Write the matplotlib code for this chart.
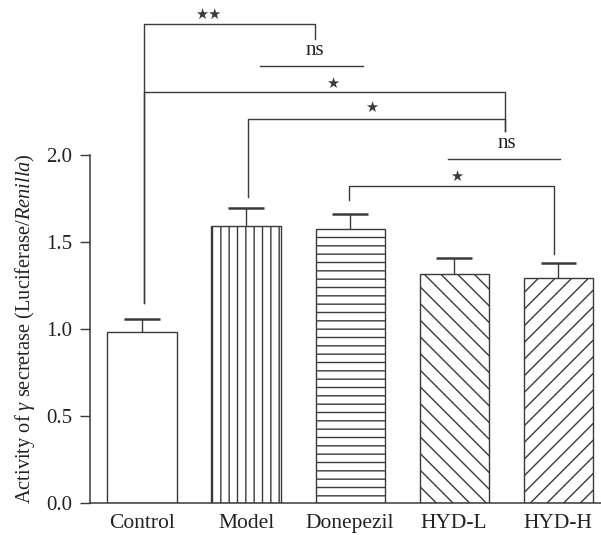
import matplotlib
matplotlib.use("Agg")
import matplotlib.pyplot as plt
import numpy as np

# group means and upper SEM
groups = ['Control', 'Model', 'Donepezil', 'HYD-L', 'HYD-H']
means = [0.983, 1.592, 1.573, 1.314, 1.291]
errs = [0.075, 0.103, 0.090, 0.096, 0.090]
hatches = ['', '||', '--', '\\\\', '//']

# significance brackets: x_left, x_right, y, bottom of left leg, bottom of right leg, label
brackets = [
    (0.016, 1.663, 2.751, 1.148, 2.667, '★★'),
    (0.016, 3.488, 2.360, 1.148, 2.138, '★'),
    (1.016, 3.488, 2.209, 1.760, 2.138, '★'),
    (1.990, 3.960, 1.822, 1.741, 1.431, '★'),
]
star_pos = [(0.635, 2.805), (1.827, 2.414), (2.202, 2.272), (3.026, 1.875)]
# plain "ns" lines: x_left, x_right, y, label x, label y
ns_lines = [
    (1.135, 2.125, 2.513, 1.663, 2.603),
    (2.940, 4.020, 1.977, 3.507, 2.065),
]

col = '#3a3a3a'
plt.rcParams['font.family'] = 'Liberation Serif'
plt.rcParams['mathtext.fontset'] = 'custom'
plt.rcParams['mathtext.rm'] = 'Liberation Serif'
plt.rcParams['mathtext.it'] = 'Liberation Serif:italic'
plt.rcParams['hatch.linewidth'] = 1.0
plt.rcParams['hatch.color'] = col

fig = plt.figure(figsize=(6.01, 5.35), dpi=100)
ax = fig.add_axes([0.1498, 0.0598, 0.85, 0.9432])

x = np.arange(len(groups))
means = np.array(means)
errs = np.array(errs)
ax.bar(x, means, width=0.665, color='white', edgecolor=col, linewidth=1.0,
       hatch=hatches, zorder=2)
ax.vlines(x, means, means + errs, color=col, linewidth=1.0, zorder=3)
ax.hlines(means + errs, x - 0.17, x + 0.17, color=col, linewidth=1.8, zorder=3)

for (xl, xr, y, bl, br, lab), (tx, ty) in zip(brackets, star_pos):
    ax.plot([xl, xl, xr, xr], [bl, y, y, br], color=col, linewidth=1.0,
            clip_on=False)
    ax.text(tx, ty, lab, ha='center', va='center', fontsize=10.5,
            family='DejaVu Sans', color=col)

for xl, xr, y, tx, ty in ns_lines:
    ax.plot([xl, xr], [y, y], color=col, linewidth=1.0, clip_on=False)
    ax.text(tx, ty, 'ns', ha='center', va='center', fontsize=15, color='#222222')

ax.set_xlim(-0.5, 4.41)
ax.set_ylim(0, 2.9)
ax.set_yticks([0.0, 0.5, 1.0, 1.5, 2.0])
ax.set_yticklabels(['0.0', '0.5', '1.0', '1.5', '2.0'])
ax.set_xticks(x)
ax.set_xticklabels(groups)
ax.tick_params(axis='y', length=7, width=1.0, color=col, pad=6,
               labelsize=15, labelcolor='#222222')
ax.tick_params(axis='x', length=0, pad=8, labelsize=15.5, labelcolor='#222222')

for s in ['top', 'right']:
    ax.spines[s].set_visible(False)
ax.spines['left'].set_bounds(0, 2.0)
for s in ['left', 'bottom']:
    ax.spines[s].set_color(col)
    ax.spines[s].set_linewidth(1.1)

ax.set_ylabel(r'Activity of $\mathit{γ}$ secretase (Luciferase/$\mathit{Renilla}$)',
              fontsize=14.7, color='#222222')
# label is centred on the drawn part of the y axis (0 to 2)
ax.yaxis.set_label_coords(-0.104, 1.0 / 2.9)

fig.savefig('out.png', dpi=100)
